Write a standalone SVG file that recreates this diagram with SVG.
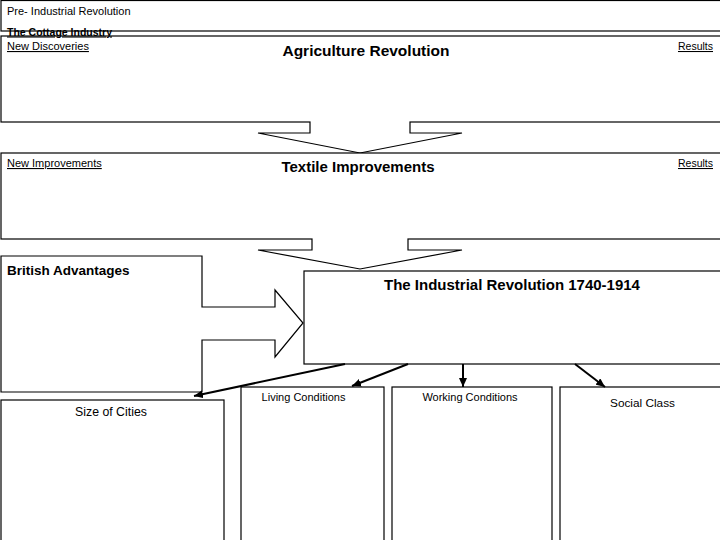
<svg xmlns="http://www.w3.org/2000/svg" width="720" height="540" viewBox="0 0 720 540">
<defs>
<style>
.box{fill:#fff;stroke:#000;stroke-width:1.2}
.cover{fill:#fff;stroke:none}
.t{font-family:"Liberation Sans",Arial,sans-serif;fill:#000}
.u{text-decoration:underline}
.b{font-weight:bold}
.conn{stroke:#000;stroke-width:2;fill:none}
</style>
<marker id="ah" markerUnits="userSpaceOnUse" markerWidth="9" markerHeight="8" refX="9" refY="4" orient="auto">
<path d="M0,0 L9,4 L0,8 z" fill="#000"/>
</marker>
</defs>
<rect width="720" height="540" fill="#fff"/>

<g id="pre-industrial">
<rect class="box" x="1" y="0.5" width="725" height="30.5"/>
<text class="t" x="7" y="15" font-size="11">Pre- Industrial Revolution</text>
</g>

<g id="agriculture">
<rect class="box" x="1" y="36" width="725" height="86"/>
<text class="t b u" x="7" y="35.5" font-size="10.5">The Cottage Industry</text>
<text class="t u" x="7" y="50" font-size="11">New Discoveries</text>
<text class="t b" x="366" y="56" font-size="15.5" text-anchor="middle">Agriculture Revolution</text>
<text class="t u" x="713" y="50" font-size="10.5" text-anchor="end">Results</text>
</g>

<g id="arrow-down-1">
<rect class="cover" x="310.6" y="120" width="98.8" height="4"/>
<polygon points="310,122 310,133 258,133 360,153 462,133 410,133 410,122" fill="#fff" stroke="none"/>
<polyline class="box" points="310,122 310,133 258,133 360,153 462,133 410,133 410,122" fill="none"/>
</g>

<g id="textile">
<rect class="box" x="1" y="153" width="725" height="86"/>
<text class="t u" x="7" y="167" font-size="11">New Improvements</text>
<text class="t b" x="358" y="172" font-size="15" text-anchor="middle">Textile Improvements</text>
<text class="t u" x="713" y="167" font-size="10.5" text-anchor="end">Results</text>
</g>

<g id="arrow-down-2">
<rect class="cover" x="312.6" y="237" width="94.8" height="4"/>
<polygon points="312,239 312,250 258,250 360,269 462,250 408,250 408,239" fill="#fff" stroke="none"/>
<polyline class="box" points="312,239 312,250 258,250 360,269 462,250 408,250 408,239" fill="none"/>
</g>

<g id="british-advantages">
<polygon class="box" points="1,256 202,256 202,307 275,307 275,290 303,323 275,357 275,340 202,340 202,392 1,392"/>
<text class="t b" x="7" y="275" font-size="13.5">British Advantages</text>
</g>

<g id="industrial-revolution">
<rect class="box" x="304" y="271" width="422" height="93"/>
<text class="t b" x="512" y="290" font-size="15" text-anchor="middle">The Industrial Revolution 1740-1914</text>
</g>

<g id="size-of-cities">
<rect class="box" x="1" y="400" width="223" height="150"/>
<text class="t" x="111" y="416" font-size="12.3" text-anchor="middle">Size of Cities</text>
</g>

<g id="living-conditions">
<rect class="box" x="241" y="387" width="143" height="163"/>
<text class="t" x="303.5" y="401" font-size="11" text-anchor="middle">Living Conditions</text>
</g>

<g id="working-conditions">
<rect class="box" x="392" y="387" width="160" height="163"/>
<text class="t" x="470" y="401" font-size="11" text-anchor="middle">Working Conditions</text>
</g>

<g id="social-class">
<rect class="box" x="560" y="387" width="166" height="163"/>
<text class="t" x="642.5" y="407" font-size="11.8" text-anchor="middle">Social Class</text>
</g>

<g id="connectors">
<line class="conn" x1="345" y1="364" x2="194" y2="396" marker-end="url(#ah)"/>
<line class="conn" x1="408" y1="364" x2="352" y2="386" marker-end="url(#ah)"/>
<line class="conn" x1="463" y1="364" x2="463" y2="387" marker-end="url(#ah)"/>
<line class="conn" x1="575" y1="364" x2="605" y2="387" marker-end="url(#ah)"/>
</g>
</svg>
